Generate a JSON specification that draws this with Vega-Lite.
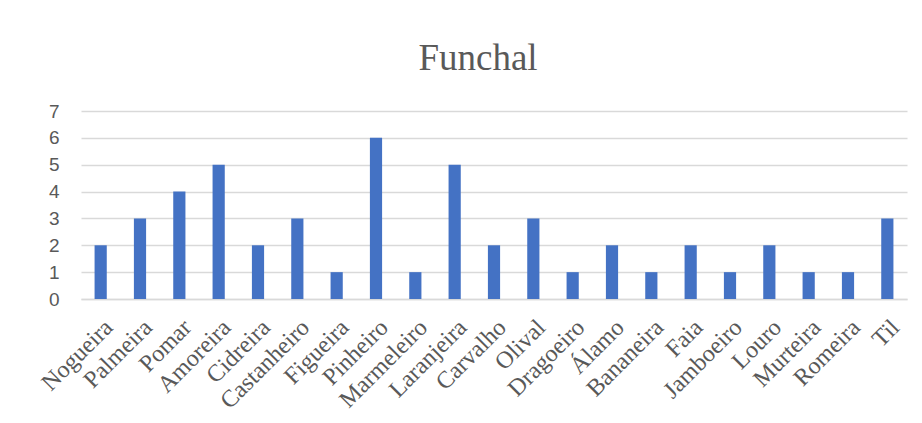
{
  "$schema": "https://vega.github.io/schema/vega-lite/v6.json",
  "autosize": "none",
  "width": 826,
  "height": 188,
  "padding": {"left": 81, "top": 111, "right": 15, "bottom": 124},
  "background": "white",
  "title": {
    "text": "Funchal",
    "font": "Liberation Serif",
    "fontSize": 37,
    "fontWeight": "normal",
    "color": "#595959",
    "anchor": "middle",
    "dx": -16,
    "offset": 24
  },
  "data": {
    "values": [
      {"arvore": "Nogueira", "n": 2},
      {"arvore": "Palmeira", "n": 3},
      {"arvore": "Pomar", "n": 4},
      {"arvore": "Amoreira", "n": 5},
      {"arvore": "Cidreira", "n": 2},
      {"arvore": "Castanheiro", "n": 3},
      {"arvore": "Figueira", "n": 1},
      {"arvore": "Pinheiro", "n": 6},
      {"arvore": "Marmeleiro", "n": 1},
      {"arvore": "Laranjeira", "n": 5},
      {"arvore": "Carvalho", "n": 2},
      {"arvore": "Olival", "n": 3},
      {"arvore": "Dragoeiro", "n": 1},
      {"arvore": "Álamo", "n": 2},
      {"arvore": "Bananeira", "n": 1},
      {"arvore": "Faia", "n": 2},
      {"arvore": "Jamboeiro", "n": 1},
      {"arvore": "Louro", "n": 2},
      {"arvore": "Murteira", "n": 1},
      {"arvore": "Romeira", "n": 1},
      {"arvore": "Til", "n": 3}
    ]
  },
  "mark": {"type": "bar", "color": "#4472C4"},
  "encoding": {
    "x": {
      "field": "arvore",
      "type": "nominal",
      "sort": null,
      "title": null,
      "scale": {"paddingInner": 0.69, "paddingOuter": 0.345},
      "axis": {
        "labelAngle": -45,
        "labelAlign": "right",
        "labelBaseline": "top",
        "labelPadding": 16,
        "labelDx": -11,
        "labelDy": -4,
        "labelFont": "Liberation Serif",
        "labelFontSize": 24,
        "labelColor": "#595959",
        "labelOverlap": false,
        "ticks": false,
        "domainColor": "#d9d9d9",
        "domainWidth": 1.5,
        "grid": false
      }
    },
    "y": {
      "field": "n",
      "type": "quantitative",
      "title": null,
      "scale": {"domain": [0, 7], "nice": false},
      "axis": {
        "values": [0, 1, 2, 3, 4, 5, 6, 7],
        "labelFont": "Liberation Sans",
        "labelFontSize": 19,
        "labelColor": "#595959",
        "labelPadding": 22,
        "ticks": false,
        "domain": false,
        "grid": true,
        "gridColor": "#d9d9d9",
        "gridWidth": 1.3
      }
    }
  },
  "config": {"view": {"stroke": null}}
}
